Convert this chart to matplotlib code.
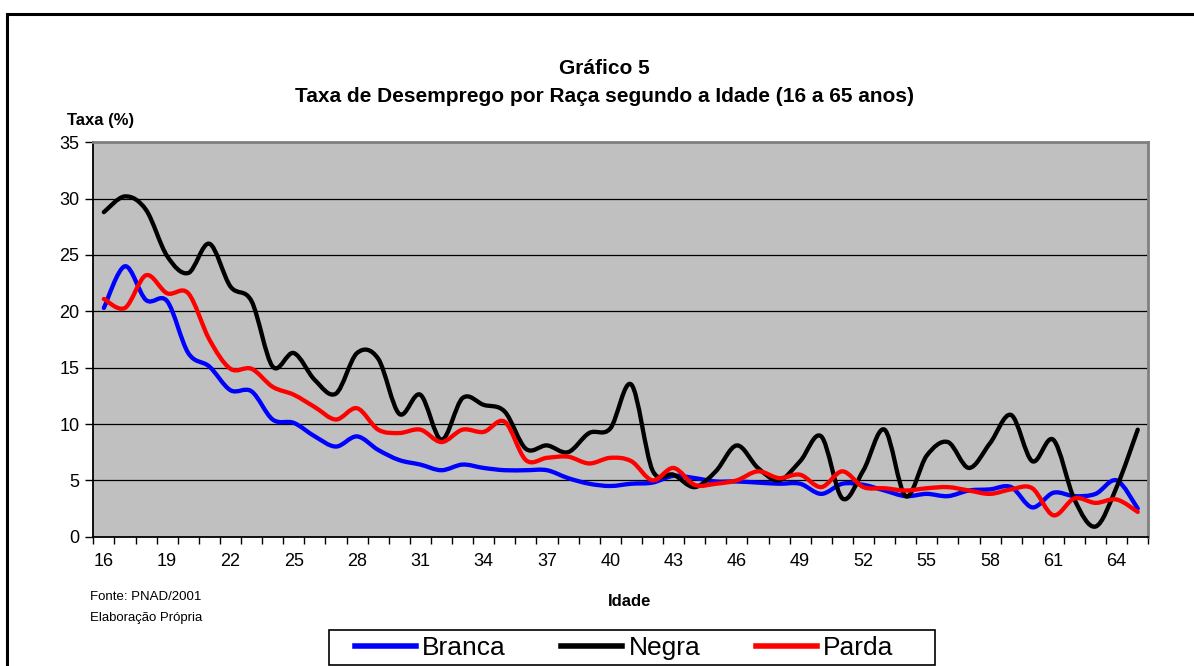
import numpy as np
import matplotlib
matplotlib.use('Agg')
import matplotlib.pyplot as plt
from matplotlib.path import Path
from matplotlib.patches import PathPatch, Rectangle
from matplotlib.lines import Line2D

plt.rcParams['font.family'] = ['Liberation Sans', 'DejaVu Sans']

# ---------------- data ----------------
ages = list(range(16, 66))
branca = [20.3, 24.0, 21.0, 20.9, 16.3, 15.1, 13.0, 12.9, 10.4, 10.1,
          8.9, 8.0, 8.9, 7.7, 6.8, 6.4, 5.9, 6.4, 6.1, 5.9,
          5.9, 5.9, 5.2, 4.7, 4.5, 4.7, 4.8, 5.4, 5.2, 4.9,
          4.9, 4.8, 4.7, 4.7, 3.8, 4.7, 4.6, 4.1, 3.6, 3.8,
          3.6, 4.1, 4.2, 4.4, 2.6, 3.9, 3.6, 3.8, 5.0, 2.5]
negra = [28.8, 30.2, 29.0, 24.9, 23.4, 26.0, 22.2, 20.9, 15.1, 16.3,
         13.9, 12.7, 16.3, 15.8, 10.9, 12.6, 8.6, 12.3, 11.7, 11.1,
         7.8, 8.1, 7.5, 9.2, 9.6, 13.5, 5.9, 5.5, 4.4, 5.8,
         8.1, 6.1, 5.0, 6.7, 8.9, 3.4, 5.9, 9.5, 3.6, 7.2,
         8.4, 6.1, 8.3, 10.8, 6.7, 8.6, 3.3, 0.9, 4.4, 9.5]
parda = [21.1, 20.3, 23.2, 21.6, 21.6, 17.5, 14.9, 14.9, 13.3, 12.6,
         11.5, 10.4, 11.4, 9.5, 9.2, 9.5, 8.4, 9.5, 9.3, 10.2,
         6.8, 7.0, 7.1, 6.5, 7.0, 6.7, 5.0, 6.1, 4.6, 4.7,
         5.0, 5.8, 5.2, 5.5, 4.4, 5.8, 4.4, 4.3, 4.1, 4.3,
         4.4, 4.1, 3.8, 4.2, 4.3, 1.9, 3.4, 3.0, 3.3, 2.2]
series_names = ['Branca', 'Negra', 'Parda']
series_colors = ['#0000FF', '#000000', '#FF0000']
xtick_values = list(range(16, 65, 3))
xtick_labels = [str(a) for a in xtick_values]
ytick_values = [0, 5, 10, 15, 20, 25, 30, 35]


def smooth_path(x, y):
    """Excel-style smoothed line: cubic Bezier through every data point."""
    x = np.asarray(x, float)
    y = np.asarray(y, float)
    n = len(x)
    verts = [(x[0], y[0])]
    codes = [Path.MOVETO]
    for i in range(n - 1):
        xp, yp = (x[i - 1], y[i - 1]) if i > 0 else (x[i], y[i])
        xn, yn = (x[i + 2], y[i + 2]) if i + 2 < n else (x[i + 1], y[i + 1])
        c1 = (x[i] + (x[i + 1] - xp) / 6.0, y[i] + (y[i + 1] - yp) / 6.0)
        c2 = (x[i + 1] - (xn - x[i]) / 6.0, y[i + 1] - (yn - y[i]) / 6.0)
        verts += [c1, c2, (x[i + 1], y[i + 1])]
        codes += [Path.CURVE4] * 3
    return Path(verts, codes)


W, H = 1194, 666
fig = plt.figure(figsize=(W / 100, H / 100), dpi=100)
fig.patch.set_facecolor('white')

left, right, top, bottom = 93.3, 1148.3, 142.3, 536.7
ax = fig.add_axes([left / W, 1 - bottom / H, (right - left) / W, (bottom - top) / H])
ax.set_facecolor('#C0C0C0')
ax.set_xlim(15.5, 65.5)
ax.set_ylim(0, 35)

# grid
for v in ytick_values[1:-1]:
    ax.axhline(v, color='black', lw=0.9, zorder=1)

# series
for vals, name, col, z in zip([branca, negra, parda], series_names, series_colors, [3, 4, 5]):
    patch = PathPatch(smooth_path(ages, vals), facecolor='none', edgecolor=col,
                      lw=3.1, capstyle='round', joinstyle='round', zorder=z)
    ax.add_patch(patch)

# spines
for s in ['left', 'bottom']:
    ax.spines[s].set_color('black')
    ax.spines[s].set_linewidth(1.3)
for s in ['top', 'right']:
    ax.spines[s].set_color('#808080')
    ax.spines[s].set_linewidth(2.0)

ax.set_yticks(ytick_values)
ax.set_yticklabels([str(v) for v in ytick_values], fontsize=13)
ax.tick_params(axis='y', direction='out', length=6, width=1, pad=4, colors='black')

ax.set_xticks(xtick_values)
ax.set_xticklabels(xtick_labels, fontsize=13)
ax.set_xticks(np.arange(15.5, 66.0, 1.0), minor=True)
ax.tick_params(axis='x', which='major', length=0, pad=12)
ax.tick_params(axis='x', which='minor', direction='out', length=5, width=1)

# texts
fig.text(0.5063, 1 - 68.5 / H, 'Gráfico 5', ha='center', va='center',
         fontsize=15, fontweight='bold')
fig.text(0.5063, 1 - 96 / H, 'Taxa de Desemprego por Raça segundo a Idade (16 a 65 anos)',
         ha='center', va='center', fontsize=15, fontweight='bold')
fig.text(67 / W, 1 - 121 / H, 'Taxa (%)', ha='left', va='center',
         fontsize=12, fontweight='bold')
fig.text(630 / W, 1 - 602 / H, 'Idade', ha='center', va='center',
         fontsize=12, fontweight='bold')
fig.text(90 / W, 1 - 597 / H, 'Fonte: PNAD/2001', ha='left', va='center', fontsize=9.5)
fig.text(90 / W, 1 - 618 / H, 'Elaboração Própria', ha='left', va='center', fontsize=9.5)

# outer frame
fig.patches.append(Rectangle((7 / W, -0.1), 1.2, 1 - 14 / H + 0.1,
                             transform=fig.transFigure, fill=False,
                             edgecolor='black', lw=2.2, clip_on=False))

# legend
fig.patches.append(Rectangle((329 / W, 1 - 665 / H), (935 - 329) / W, (665 - 630) / H,
                             transform=fig.transFigure, facecolor='white',
                             edgecolor='black', lw=1.2))
handles = [Line2D([0], [0], color=c, lw=4.0) for c in series_colors]
fig.legend(handles, series_names, loc='center left',
           bbox_to_anchor=(355 / W, 1 - 648 / H), ncol=3, frameon=False,
           fontsize=19, handlelength=2.3, handletextpad=0.25,
           columnspacing=2.1, borderpad=0, borderaxespad=0)

fig.savefig('out.png', dpi=100)
